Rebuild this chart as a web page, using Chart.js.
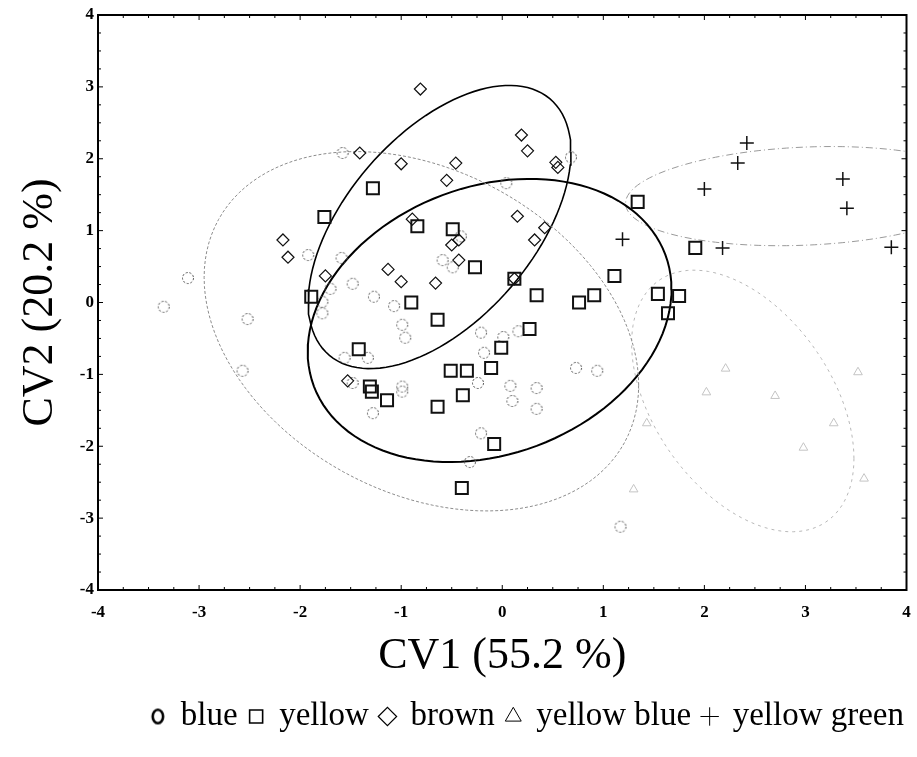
<!DOCTYPE html>
<html>
<head>
<meta charset="utf-8">
<title>CV1 / CV2</title>
<script src="https://cdn.jsdelivr.net/npm/chart.js@4.4.1/dist/chart.umd.min.js"></script>
<style>
  html, body { margin: 0; padding: 0; background: #fff; }
  canvas { display: block; }
</style>
</head>
<body>
<canvas id="myChart" width="917" height="757"></canvas>
<script>
// groups (legend order)
const groups = ['blue', 'yellow', 'brown', 'yellow blue', 'yellow green'];

// points, [CV1, CV2]
const bluePoints = [
  [-1.58, 2.08], [0.68, 2.02], [0.04, 1.66], [-3.11, 0.34], [-3.35, -0.06],
  [-2.52, -0.23], [-2.57, -0.95], [-1.92, 0.66], [-1.59, 0.62], [-1.48, 0.26],
  [-1.27, 0.08], [-1.07, -0.05], [-1.70, 0.19], [-1.78, 0.01], [-1.78, -0.15],
  [-0.59, 0.59], [-0.49, 0.49], [-0.99, -0.31], [-0.96, -0.49], [-1.56, -0.77],
  [-1.33, -0.77], [-0.99, -1.17], [-0.21, -0.42], [0.01, -0.48], [0.16, -0.40],
  [-0.18, -0.70], [-0.24, -1.12], [0.08, -1.16], [0.34, -1.19], [0.73, -0.91],
  [0.94, -0.95], [-1.28, -1.54], [-0.99, -1.24], [0.10, -1.37], [0.34, -1.48],
  [-0.21, -1.82], [-0.32, -2.22], [1.17, -3.12], [-1.48, -1.12], [-0.41, 0.92]
];
const yellowPoints = [
  [-1.28, 1.59], [-1.76, 1.19], [-0.84, 1.06], [-0.49, 1.02], [-0.27, 0.49],
  [-1.89, 0.08], [-0.90, 0.00], [1.34, 1.40], [1.91, 0.76], [1.11, 0.37],
  [0.34, 0.10], [0.76, 0.00], [0.91, 0.10], [1.54, 0.12], [1.75, 0.09],
  [1.64, -0.15], [0.12, 0.33], [-0.64, -0.24], [-1.42, -0.65], [-1.31, -1.17],
  [-1.29, -1.24], [-1.14, -1.36], [-0.51, -0.95], [-0.35, -0.95], [-0.11, -0.91],
  [-0.01, -0.63], [-0.39, -1.29], [-0.64, -1.45], [-0.08, -1.97], [-0.40, -2.58],
  [0.27, -0.37]
];
const brownPoints = [
  [-0.81, 2.97], [-1.41, 2.08], [-1.00, 1.93], [-0.46, 1.94], [-0.55, 1.70],
  [0.19, 2.33], [0.25, 2.11], [0.53, 1.95], [0.55, 1.88], [0.15, 1.20],
  [0.42, 1.04], [0.32, 0.87], [-2.17, 0.87], [-2.12, 0.63], [-1.75, 0.37],
  [-0.89, 1.16], [-0.50, 0.80], [-0.43, 0.87], [-0.43, 0.59], [-1.13, 0.46],
  [-1.00, 0.29], [-0.66, 0.27], [-1.53, -1.09], [0.12, 0.33]
];
const yellowBluePoints = [
  [2.21, -0.92], [2.70, -1.30], [2.98, -2.02], [3.28, -1.68], [2.02, -1.25],
  [1.43, -1.68], [1.30, -2.60], [3.58, -2.45], [3.52, -0.97]
];
const yellowGreenPoints = [
  [2.42, 2.22], [2.33, 1.94], [2.00, 1.58], [3.37, 1.72], [3.41, 1.31],
  [1.19, 0.88], [2.18, 0.76], [3.85, 0.77]
];

// group ellipses: centre, spread along CV1 / CV2, correlation
const ellipseCx = [-0.80, -0.125, -0.62, 2.38, 3.00];
const ellipseCy = [-0.40, -0.25, 1.05, -1.37, 1.48];
const ellipseSx = [2.15, 1.80, 1.30, 1.10, 1.78];
const ellipseSy = [2.50, 1.97, 1.97, 1.82, 0.69];
const ellipseRho = [-0.30, 0.22, 0.53, -0.44, 0.145];

const axisTicks = [-4, -3, -2, -1, 0, 1, 2, 3, 4];

const serif = "'Liberation Serif', 'Times New Roman', serif";

function toXY(list) {
  return list.map(p => ({ x: p[0], y: p[1] }));
}

function outline(i) {
  const pts = [];
  const r = ellipseRho[i];
  for (let a = 0; a <= 360; a += 3) {
    const t = a * Math.PI / 180;
    const u = Math.cos(t), v = Math.sin(t);
    pts.push({
      x: ellipseCx[i] + ellipseSx[i] * u,
      y: ellipseCy[i] + ellipseSy[i] * (r * u + Math.sqrt(1 - r * r) * v)
    });
  }
  return pts;
}

// dotted circle marker, like the scanned one
function dottedCircle() {
  const c = document.createElement('canvas');
  c.width = 14; c.height = 14;
  const g = c.getContext('2d');
  g.setLineDash([2.2, 1.6]);
  g.strokeStyle = '#5a5a5a';
  g.lineWidth = 1;
  g.beginPath();
  g.arc(7, 7, 5.5, 0, Math.PI * 2);
  g.stroke();
  return c;
}

// bold "O" for the legend
function legendRing() {
  const c = document.createElement('canvas');
  c.width = 16; c.height = 18;
  const g = c.getContext('2d');
  g.strokeStyle = '#000';
  g.lineWidth = 2.6;
  g.beginPath();
  g.ellipse(8, 9, 5.2, 6.8, 0, 0, Math.PI * 2);
  g.stroke();
  return c;
}

const ellipseStyles = [
  { color: '#8c8c8c', width: 1, dash: [3, 2] },
  { color: '#000', width: 2, dash: [] },
  { color: '#000', width: 1.6, dash: [] },
  { color: '#b8b8b8', width: 1, dash: [3, 4] },
  { color: '#9a9a9a', width: 1, dash: [7, 3, 1, 3] }
];

const ellipseSets = groups.map((g, i) => ({
  label: g + ' ellipse',
  data: outline(i),
  showLine: true,
  pointRadius: 0,
  borderColor: ellipseStyles[i].color,
  borderWidth: ellipseStyles[i].width,
  borderDash: ellipseStyles[i].dash,
  fill: false,
  order: 5
}));

const pointSets = [
  { label: groups[0], data: toXY(bluePoints), pointStyle: dottedCircle(), pointRadius: 6, order: 4 },
  { label: groups[1], data: toXY(yellowPoints), pointStyle: 'rect', pointRadius: 8.5,
    borderColor: '#111', borderWidth: 2, order: 2 },
  { label: groups[2], data: toXY(brownPoints), pointStyle: 'rectRot', pointRadius: 6,
    borderColor: '#111', borderWidth: 1.2, order: 1 },
  { label: groups[3], data: toXY(yellowBluePoints), pointStyle: 'triangle', pointRadius: 5,
    borderColor: '#c4c4c4', borderWidth: 1, order: 3 },
  { label: groups[4], data: toXY(yellowGreenPoints), pointStyle: 'cross', pointRadius: 7,
    borderColor: '#111', borderWidth: 1.5, order: 1 }
].map(d => Object.assign({ backgroundColor: 'transparent', showLine: false }, d));

const legendStyles = [
  { pointStyle: legendRing(), lineWidth: 2.5 },
  { pointStyle: 'rect', lineWidth: 1.6 },
  { pointStyle: 'rectRot', lineWidth: 1.2 },
  { pointStyle: 'triangle', lineWidth: 1 },
  { pointStyle: 'cross', lineWidth: 1 }
];

// frame round the plot with small inward ticks
const frame = {
  id: 'frame',
  afterDraw(chart) {
    const { ctx, chartArea: a, scales: { x, y } } = chart;
    ctx.save();
    ctx.strokeStyle = '#000';
    ctx.lineWidth = 2;
    ctx.strokeRect(a.left, a.top, a.right - a.left, a.bottom - a.top);
    ctx.lineWidth = 1;
    ctx.beginPath();
    for (let v = -4; v <= 4; v += 0.25) {
      const len = Number.isInteger(v) ? 5 : 3;
      const px = x.getPixelForValue(v), py = y.getPixelForValue(v);
      ctx.moveTo(px, a.bottom); ctx.lineTo(px, a.bottom - len);
      ctx.moveTo(px, a.top); ctx.lineTo(px, a.top + len);
      ctx.moveTo(a.left, py); ctx.lineTo(a.left + len, py);
      ctx.moveTo(a.right, py); ctx.lineTo(a.right - len, py);
    }
    ctx.stroke();
    ctx.restore();
  }
};

const config = {
  type: 'scatter',
  data: { datasets: [...pointSets, ...ellipseSets] },
  options: {
    responsive: false,
    animation: false,
    devicePixelRatio: 1,
    layout: { padding: { top: 15, right: 1, bottom: 14, left: 0 } },
    scales: {
      x: {
        type: 'linear', min: -4, max: 4,
        afterBuildTicks: s => { s.ticks = axisTicks.map(v => ({ value: v })); },
        afterFit: s => { s.height = 98; s.paddingRight = 9; s.paddingLeft = 0; },
        grid: { display: false, drawTicks: false },
        border: { display: false },
        ticks: { color: '#000', padding: 12, font: { family: serif, size: 17, weight: 'bold' } },
        title: { display: true, text: 'CV1 (55.2 %)', color: '#000', padding: { top: 0, bottom: 5 },
          font: { family: serif, size: 44, weight: 'normal' } }
      },
      y: {
        type: 'linear', min: -4, max: 4,
        afterBuildTicks: s => { s.ticks = axisTicks.map(v => ({ value: v })); },
        afterFit: s => { s.width = 98; },
        grid: { display: false, drawTicks: false },
        border: { display: false },
        ticks: { color: '#000', padding: 4, font: { family: serif, size: 17, weight: 'bold' } },
        title: { display: true, text: 'CV2 (20.2 %)', color: '#000', padding: { top: 14, bottom: 0 },
          font: { family: serif, size: 44, weight: 'normal' } }
      }
    },
    plugins: {
      tooltip: { enabled: false },
      legend: {
        position: 'bottom',
        align: 'end',
        labels: {
          usePointStyle: true,
          boxWidth: 13,
          boxHeight: 13,
          padding: 12,
          color: '#000',
          font: { family: serif, size: 33 },
          generateLabels: () => groups.map((g, i) => ({
            text: g,
            datasetIndex: i,
            hidden: false,
            fillStyle: 'transparent',
            strokeStyle: '#000',
            fontColor: '#000',
            lineWidth: legendStyles[i].lineWidth,
            pointStyle: legendStyles[i].pointStyle
          }))
        }
      }
    }
  },
  plugins: [frame]
};

const myChart = new Chart(document.getElementById('myChart'), config);
</script>
</body>
</html>
